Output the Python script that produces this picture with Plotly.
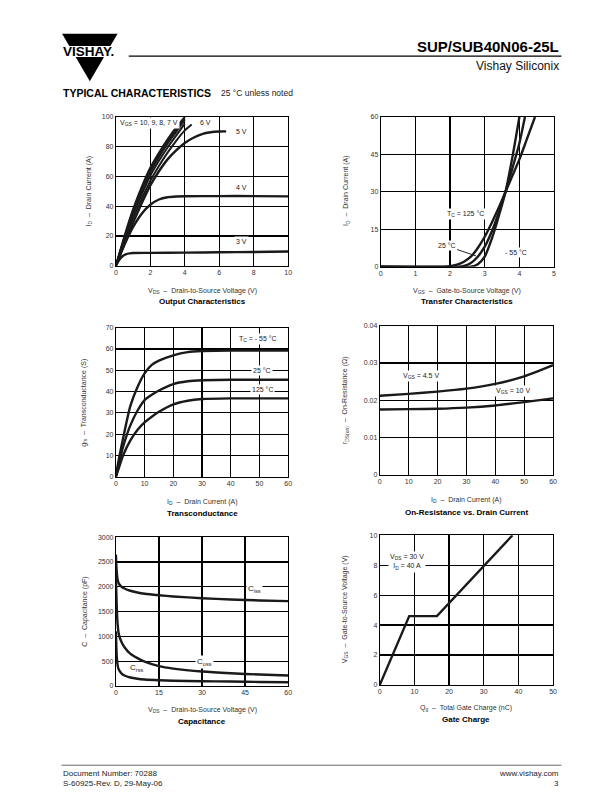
import plotly.graph_objects as go

W, H = 612, 792
FONT = "Liberation Sans, Arial, sans-serif"

# ---------------- data ----------------
# Output characteristics (VDS in V, ID in A)
oc_vds_hi = [0, 0.5, 1, 1.5, 2, 2.5, 3, 3.5, 4.0]
oc_id_10v = [0, 20, 38, 53, 66, 76, 85, 93, 100]
oc_id_9v = [0, 19, 37, 51.5, 64.5, 74.5, 83.5, 91.5, 99]
oc_id_8v = [0, 18.5, 36, 50, 63, 73, 82, 90, 98]
oc_id_7v = [0, 18, 34.5, 48, 60.5, 70.5, 79.5, 87.5, 95.5]
oc_vds_6v = [0, 0.5, 1, 1.5, 2, 2.5, 3, 3.5, 4, 4.4]
oc_id_6v = [0, 17, 32, 45, 57, 67, 76, 84, 91, 95]
oc_vds_5v = [0, 0.5, 1, 1.5, 2, 2.5, 3, 3.5, 4, 4.5, 5, 5.5, 6, 6.4]
oc_id_5v = [0, 15, 29, 42, 54, 63.5, 71.5, 77.5, 82.5, 86, 88.5, 89.7, 90.2, 90.3]
oc_vds_4v = [0, 0.5, 1, 1.5, 2, 2.5, 3, 3.5, 4, 6, 8, 10]
oc_id_4v = [0, 14, 26, 35, 41, 44.5, 46, 46.5, 46.7, 46.8, 46.8, 46.6]
oc_vds_3v = [0, 0.2, 0.4, 0.6, 0.8, 1, 2, 4, 6, 8, 10]
oc_id_3v = [0, 4, 6.5, 7.8, 8.3, 8.5, 8.6, 8.8, 9.0, 9.2, 9.5]

# Transfer characteristics (VGS in V, ID in A)
tr_vgs_125 = [0, 1.8, 2.0, 2.2, 2.4, 2.6, 2.8, 3.0, 3.2, 3.4, 3.6, 3.8, 4.0, 4.2, 4.45]
tr_id_125 = [0, 0, 0.2, 0.8, 2, 4, 7.5, 12, 17.5, 23.5, 30, 36.5, 43, 50.5, 60]
tr_vgs_25 = [0, 2.2, 2.4, 2.6, 2.8, 3.0, 3.2, 3.4, 3.6, 3.8, 4.0, 4.16]
tr_id_25 = [0, 0, 0.3, 1.5, 4, 8, 14, 21.5, 30, 39.5, 49.5, 60]
tr_vgs_m55 = [0, 2.6, 2.8, 3.0, 3.2, 3.4, 3.6, 3.8, 4.0]
tr_id_m55 = [0, 0, 1, 4, 11, 20, 30, 44, 60]

# Transconductance (ID in A, gfs in S)
gm_id = [0, 1, 2.5, 5, 7.5, 10, 12.5, 15, 20, 25, 30, 40, 60]
gm_m55 = [0, 8, 18, 33, 42, 48.5, 52.5, 54.5, 57, 58.5, 59, 59.2, 59.2]
gm_25 = [0, 6, 14, 24, 31, 36, 38.5, 40.5, 43.5, 44.8, 45.3, 45.5, 45.5]
gm_125 = [0, 4, 10, 17, 22, 25.5, 28.2, 30.5, 34, 35.7, 36.5, 36.8, 36.8]

# On-resistance vs drain current (ID in A, rDS(on) in ohm)
rds_id = [0, 10, 20, 30, 40, 50, 60]
rds_vgs45 = [0.0212, 0.0217, 0.0223, 0.0231, 0.0244, 0.0264, 0.0294]
rds_vgs10 = [0.0175, 0.0176, 0.0177, 0.0180, 0.0186, 0.0195, 0.0205]

# Capacitance (VDS in V, C in pF)
cap_vds = [0, 0.3, 0.6, 1, 2, 3, 5, 7.5, 10, 15, 20, 30, 40, 50, 60]
cap_ciss = [2650, 2300, 2150, 2070, 2000, 1965, 1920, 1885, 1860, 1830, 1805, 1770, 1745, 1725, 1710]
cap_coss = [2200, 1600, 1250, 1050, 880, 780, 650, 560, 490, 400, 350, 290, 255, 230, 210]
cap_crss = [1100, 600, 420, 330, 250, 210, 170, 145, 130, 115, 105, 95, 88, 80, 75]

# Gate charge (Qg in nC, VGS in V)
gc_qg = [0, 8.5, 16.5, 38.3]
gc_vgs = [0, 4.6, 4.6, 10]

# ---------------- layout helpers ----------------
def fx(p):
    return p / W

def fy(p):
    return 1 - p / H

# plot areas in pixels: (x0, x1, y_top, y_bottom)
areas = [
    (115, 289, 114, 264),
    (382.5, 557.5, 114, 265),
    (115, 289, 326.5, 477),
    (381.5, 556.5, 324.5, 475),
    (115, 289, 538, 688),
    (381.5, 556.5, 536, 687),
]
ranges = [
    ((0, 10), (0, 100), [0, 2, 4, 6, 8, 10], [0, 20, 40, 60, 80, 100]),
    ((0, 5), (0, 60), [0, 1, 2, 3, 4, 5], [0, 15, 30, 45, 60]),
    ((0, 60), (0, 70), [0, 10, 20, 30, 40, 50, 60], [0, 10, 20, 30, 40, 50, 60, 70]),
    ((0, 60), (0, 0.04), [0, 10, 20, 30, 40, 50, 60], [0, 0.01, 0.02, 0.03, 0.04]),
    ((0, 60), (0, 3000), [0, 15, 30, 45, 60], [0, 500, 1000, 1500, 2000, 2500, 3000]),
    ((0, 50), (0, 10), [0, 10, 20, 30, 40, 50], [0, 2, 4, 6, 8, 10]),
]
ytick_text = [None, None, None, ["0", "0.01", "0.02", "0.03", "0.04"], None, None]

fig = go.Figure()
layout = dict(
    width=W, height=H, margin=dict(l=0, r=0, t=0, b=0),
    paper_bgcolor="white", plot_bgcolor="white",
    showlegend=False, font=dict(family=FONT, color="#222"),
)

for i, ((x0, x1, yt, yb), (xr, yr, xt, yt_vals)) in enumerate(zip(areas, ranges), start=1):
    sx = "" if i == 1 else str(i)
    common = dict(
        showgrid=True, gridcolor="black", gridwidth=1.2,
        showline=True, linecolor="black", linewidth=1, mirror=True,
        zeroline=False, ticks="", tickfont=dict(size=7, color="#333", family=FONT),
        fixedrange=True,
    )
    layout["xaxis" + sx] = dict(common, domain=[fx(x0), fx(x1)], range=list(xr),
                                tickvals=xt, anchor="y" + sx)
    yax = dict(common, domain=[fy(yb), fy(yt)], range=list(yr),
               tickvals=yt_vals, anchor="x" + sx)
    if ytick_text[i - 1]:
        yax["ticktext"] = ytick_text[i - 1]
    layout["yaxis" + sx] = yax

fig.update_layout(**layout)

LC = "#1a1a1a"

def line(x, y, k, w=2.4):
    sx = "" if k == 1 else str(k)
    fig.add_trace(go.Scatter(x=x, y=y, mode="lines", xaxis="x" + sx, yaxis="y" + sx,
                             line=dict(color=LC, width=w, shape="spline", smoothing=0.6),
                             hoverinfo="skip"))

# 1 Output characteristics
for ys in (oc_id_10v, oc_id_9v, oc_id_8v, oc_id_7v):
    line(oc_vds_hi, ys, 1, 2.0)
line(oc_vds_6v, oc_id_6v, 1, 2.0)
line(oc_vds_5v, oc_id_5v, 1)
line(oc_vds_4v, oc_id_4v, 1)
line(oc_vds_3v, oc_id_3v, 1)
# 2 Transfer
line(tr_vgs_125, tr_id_125, 2)
line(tr_vgs_25, tr_id_25, 2)
line(tr_vgs_m55, tr_id_m55, 2)
# 3 Transconductance
line(gm_id, gm_m55, 3)
line(gm_id, gm_25, 3)
line(gm_id, gm_125, 3)
# 4 On-resistance
line(rds_id, rds_vgs45, 4)
line(rds_id, rds_vgs10, 4)
# 5 Capacitance
line(cap_vds, cap_ciss, 5)
line(cap_vds, cap_coss, 5)
line(cap_vds, cap_crss, 5)
# 6 Gate charge
fig.add_trace(go.Scatter(x=gc_qg, y=gc_vgs, mode="lines", xaxis="x6", yaxis="y6",
                         line=dict(color=LC, width=2.4), hoverinfo="skip"))

ann = []

def dlabel(k, x, y, text, size=7, bg="white", xanchor="center"):
    sx = "" if k == 1 else str(k)
    ann.append(dict(xref="x" + sx, yref="y" + sx, x=x, y=y, text=text, showarrow=False,
                    font=dict(size=size, color="#222", family=FONT), bgcolor=bg,
                    xanchor=xanchor, borderpad=1))

dlabel(1, 1.9, 95.8, "V<sub>GS</sub> = 10, 9, 8, 7 V")
dlabel(1, 5.2, 96.5, "6 V")
dlabel(1, 7.3, 90.5, "5 V")
dlabel(1, 7.3, 52.5, "4 V")
dlabel(1, 7.3, 16.3, "3 V")

dlabel(2, 2.45, 21.0, "T<sub>C</sub> = 125 °C")
ann.append(dict(xref="x2", yref="y2", x=2.75, y=4.3, ax=1.9, ay=8.3, axref="x2", ayref="y2",
                text="25 °C", showarrow=True, arrowhead=0, arrowwidth=1, arrowcolor="#222",
                font=dict(size=7, color="#222", family=FONT), bgcolor="white", borderpad=1))
dlabel(2, 3.9, 5.8, "- 55 °C")

dlabel(3, 49.5, 64.6, "T<sub>C</sub> = - 55 °C")
dlabel(3, 51, 50, "25 °C")
dlabel(3, 51, 41, "125 °C")

dlabel(4, 14.3, 0.0264, "V<sub>GS</sub> = 4.5 V")
dlabel(4, 46.3, 0.0226, "V<sub>GS</sub> = 10 V")

dlabel(5, 48.2, 1950, "C<sub>iss</sub>", size=8)
dlabel(5, 31, 490, "C<sub>oss</sub>", size=8)
dlabel(5, 7.2, 355, "C<sub>rss</sub>", size=8, bg="rgba(0,0,0,0)")

dlabel(6, 7.8, 8.2, "V<sub>DS</sub> = 30 V<br>I<sub>D</sub> = 40 A")


def ptext(x, y, text, size=7, bold=False, xanchor="center", angle=0, color="#333"):
    t = "<b>" + text + "</b>" if bold else text
    ann.append(dict(xref="paper", yref="paper", x=fx(x), y=fy(y), text=t, showarrow=False,
                    xanchor=xanchor, yanchor="middle", textangle=angle,
                    font=dict(size=size, color=color, family=FONT)))

# axis titles and chart titles
xt_titles = [
    (202, 290, "V<sub>DS</sub>  –  Drain-to-Source Voltage (V)", 300, "Output Characteristics"),
    (470, 290, "V<sub>GS</sub>  –  Gate-to-Source Voltage (V)", 300, "Transfer Characteristics"),
    (202, 502, "I<sub>D</sub>  –  Drain Current (A)", 514, "Transconductance"),
    (469, 500, "I<sub>D</sub>  –  Drain Current (A)", 513, "On-Resistance vs. Drain Current"),
    (202, 712, "V<sub>DS</sub>  –  Drain-to-Source Voltage (V)", 724, "Capacitance"),
    (469, 710, "Q<sub>g</sub>  –  Total Gate Charge (nC)", 722, "Gate Charge"),
]
for cx, ya, t1, yb, t2 in xt_titles:
    ptext(cx, ya, t1, size=7)
    ptext(cx, yb, t2, size=8, bold=True, color="black")

yt_titles = [
    (88, 189, "I<sub>D</sub>  –  Drain Current (A)"),
    (348, 189, "I<sub>D</sub>  –  Drain Current (A)"),
    (83, 402, "g<sub>fs</sub>  –  Transconductance (S)"),
    (347, 400, "r<sub>DS(on)</sub>  –  On-Resistance (Ω)"),
    (83, 613, "C  –  Capacitance (pF)"),
    (346, 611, "V<sub>GS</sub>  –  Gate-to-Source Voltage (V)"),
]
for cx, cy, t in yt_titles:
    ptext(cx, cy, t, size=7, angle=-90)

# header
ptext(565, 43, "SUP/SUB40N06-25L", size=15, bold=True, xanchor="right", color="black")
ptext(565, 63, "Vishay Siliconix", size=12, xanchor="right", color="#111")
ptext(60, 90, "TYPICAL CHARACTERISTICS", size=10.5, bold=True, xanchor="left", color="black")
ptext(219, 90, "25 °C unless noted", size=8.5, xanchor="left", color="#222")
ptext(87.5, 48, "VISHAY.", size=13.5, bold=True, color="black")

# footer
ptext(60, 776, "Document Number: 70288", size=8, xanchor="left", color="#222")
ptext(60, 786, "S-60925-Rev. D, 29-May-06", size=8, xanchor="left", color="#222")
ptext(565, 776, "www.vishay.com", size=8, xanchor="right", color="#222")
ptext(565, 786, "3", size=8, xanchor="right", color="#222")

shapes = [
    # logo triangle
    dict(type="path", xref="paper", yref="paper",
         path=f"M {fx(60.7)},{fy(30)} L {fx(116.7)},{fy(30)} L {fx(88.7)},{fy(78)} Z",
         fillcolor="black", line=dict(width=0)),
    dict(type="rect", xref="paper", yref="paper", x0=fx(56), x1=fx(120), y0=fy(53.5), y1=fy(42.5),
         fillcolor="white", line=dict(width=0)),
    # header rule
    dict(type="line", xref="paper", yref="paper", x0=fx(128), x1=fx(565), y0=fy(52.5), y1=fy(52.5),
         line=dict(color="black", width=1.3)),
    # footer rule
    dict(type="line", xref="paper", yref="paper", x0=fx(60), x1=fx(565), y0=fy(768), y1=fy(768),
         line=dict(color="#444", width=0.8)),
]

fig.update_layout(annotations=ann, shapes=shapes)
fig.write_html(
    "out.html",
    config={"displayModeBar": False, "staticPlot": True},
    post_script="document.body.style.margin='0';document.body.style.overflow='hidden';",
)
